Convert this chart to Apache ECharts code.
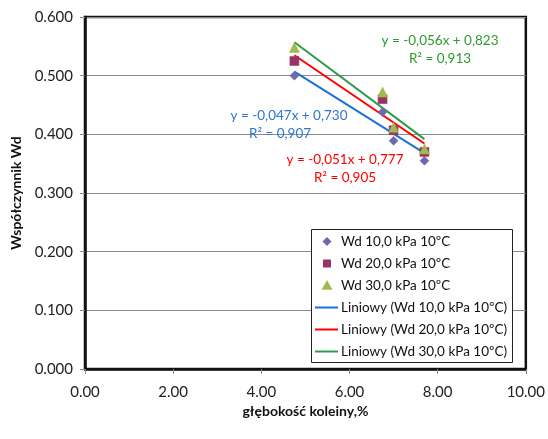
<!DOCTYPE html>
<html>
<head>
<meta charset="utf-8">
<script src="https://cdn.jsdelivr.net/npm/echarts@6/dist/echarts.min.js"></script>
<style>html,body{margin:0;padding:0;background:#fff}#c{width:548px;height:439px}</style>
</head>
<body>
<div id="c"></div>
<script>
const seriesNames = ['Wd 10,0 kPa 10ºC', 'Wd 20,0 kPa 10ºC', 'Wd 30,0 kPa 10ºC'];
const xValues = [4.75, 6.75, 7.0, 7.7];
const wd10 = [0.500, 0.438, 0.389, 0.355];
const wd20 = [0.525, 0.460, 0.407, 0.370];
const wd30 = [0.548, 0.472, 0.412, 0.375];
const trendSlopes = [-0.047, -0.051, -0.056];
const trendIntercepts = [0.730, 0.777, 0.823];
const trendLabels = [
  ['y = -0,047x + 0,730', 'R² = 0,907'],
  ['y = -0,051x + 0,777', 'R² = 0,905'],
  ['y = -0,056x + 0,823', 'R² = 0,913']
];
const xTicks = [0, 2, 4, 6, 8, 10];
const yTicks = [0, 0.1, 0.2, 0.3, 0.4, 0.5, 0.6];

const markerColors = ['#6B6BAA', '#993366', '#9BBB59'];
const markerBorders = ['#6B6BAA', '#993366', '#A8B820'];
const symbols = ['diamond', 'rect', 'triangle'];
const symbolSizes = [9, 9, 10];
const lineColors = ['#1F6FD6', '#FF0000', '#2E9A4E'];
const textColors = ['#2F75D2', '#FF0000', '#2E9A2E'];
const FONT = 'Lato';

const values = [wd10, wd20, wd30];
const series = [];
values.forEach((v, i) => {
  series.push({
    name: seriesNames[i], type: 'scatter', symbol: symbols[i], symbolSize: symbolSizes[i],
    itemStyle: {color: markerColors[i], borderColor: markerBorders[i], borderWidth: 0.5, opacity: 1},
    data: xValues.map((x, j) => [x, v[j]]), z: 3
  });
});
const xMin = Math.min(...xValues), xMax = Math.max(...xValues);
values.forEach((v, i) => {
  series.push({
    name: 'Liniowy (' + seriesNames[i] + ')', type: 'line', symbol: 'none', showSymbol: false,
    lineStyle: {color: lineColors[i], width: 2}, itemStyle: {color: lineColors[i]},
    data: [xMin, xMax].map(x => [x, trendSlopes[i] * x + trendIntercepts[i]]), z: 2
  });
});

const graphics = [];
const labelPos = [[289, 109, 280], [345, 153, 345], [440, 34, 440]];
trendLabels.forEach((t, i) => {
  graphics.push({type: 'text', x: labelPos[i][0], y: labelPos[i][1], z: 10,
    style: {text: t[0], fill: textColors[i], font: '13.5px ' + FONT, textAlign: 'center'}});
  graphics.push({type: 'text', x: labelPos[i][2], y: labelPos[i][1] + 18, z: 10,
    style: {text: t[1], fill: textColors[i], font: '13.5px ' + FONT, textAlign: 'center'}});
});

// legend (drawn as graphic elements)
const LX = 311, LY = 229, LW = 201, LH = 133, ROW0 = 241.5, ROWH = 22;
graphics.push({type: 'rect', shape: {x: LX + 0.5, y: LY + 0.5, width: LW, height: LH}, z: 20,
  style: {fill: '#fff', stroke: '#222', lineWidth: 1}});
const legendNames = seriesNames.concat(seriesNames.map(n => 'Liniowy (' + n + ')'));
legendNames.forEach((name, k) => {
  const cy = ROW0 + k * ROWH, cx = 327;
  if (k === 0) {
    graphics.push({type: 'polygon', z: 21, shape: {points: [[cx, cy - 4.5], [cx + 4.5, cy], [cx, cy + 4.5], [cx - 4.5, cy]]},
      style: {fill: markerColors[0]}});
  } else if (k === 1) {
    graphics.push({type: 'rect', z: 21, shape: {x: cx - 4, y: cy - 4, width: 8, height: 8}, style: {fill: markerColors[1]}});
  } else if (k === 2) {
    graphics.push({type: 'polygon', z: 21, shape: {points: [[cx, cy - 5], [cx + 5, cy + 4], [cx - 5, cy + 4]]},
      style: {fill: markerColors[2], stroke: markerBorders[2], lineWidth: 0.5}});
  } else {
    graphics.push({type: 'line', z: 21, shape: {x1: 315, y1: cy, x2: 338, y2: cy},
      style: {stroke: lineColors[k - 3], lineWidth: 2}});
  }
  graphics.push({type: 'text', z: 21, x: 341, y: cy, style: {text: name, fill: '#111', font: '13.5px ' + FONT, textVerticalAlign: 'middle', verticalAlign: 'middle'}});
});

const chart = echarts.init(document.getElementById('c'), null, {renderer: 'canvas'});
chart.setOption({
  animation: false,
  backgroundColor: '#fff',
  grid: {left: 85, top: 17, right: 22, bottom: 70, show: true, borderColor: '#111', borderWidth: 2.5, backgroundColor: '#fff'},
  xAxis: {
    type: 'value', min: xTicks[0], max: xTicks[xTicks.length - 1], interval: 2,
    name: 'głębokość koleiny,%', nameLocation: 'middle', nameGap: 31,
    nameTextStyle: {fontFamily: FONT, fontWeight: 'bold', fontSize: 14, color: '#111'},
    axisLine: {show: true, onZero: false, lineStyle: {color: '#111', width: 2.5}},
    axisTick: {show: true, length: 5, lineStyle: {color: '#888'}},
    splitLine: {show: false},
    axisLabel: {margin: 16, fontFamily: FONT, fontSize: 15, color: '#222', formatter: v => v.toFixed(2)}
  },
  yAxis: {
    type: 'value', min: yTicks[0], max: yTicks[yTicks.length - 1], interval: 0.1,
    name: 'Współczynnik Wd', nameLocation: 'middle', nameGap: 60,
    nameTextStyle: {fontFamily: FONT, fontWeight: 'bold', fontSize: 14, color: '#111'},
    axisLine: {show: true, lineStyle: {color: '#111', width: 2.5}},
    axisTick: {show: true, length: 5, lineStyle: {color: '#888'}},
    splitLine: {show: true, lineStyle: {color: '#8a8a8a', width: 1}},
    axisLabel: {margin: 12, fontFamily: FONT, fontSize: 15, color: '#222', formatter: v => v.toFixed(3)}
  },
  graphic: graphics,
  series: series
});
</script>
</body>
</html>
